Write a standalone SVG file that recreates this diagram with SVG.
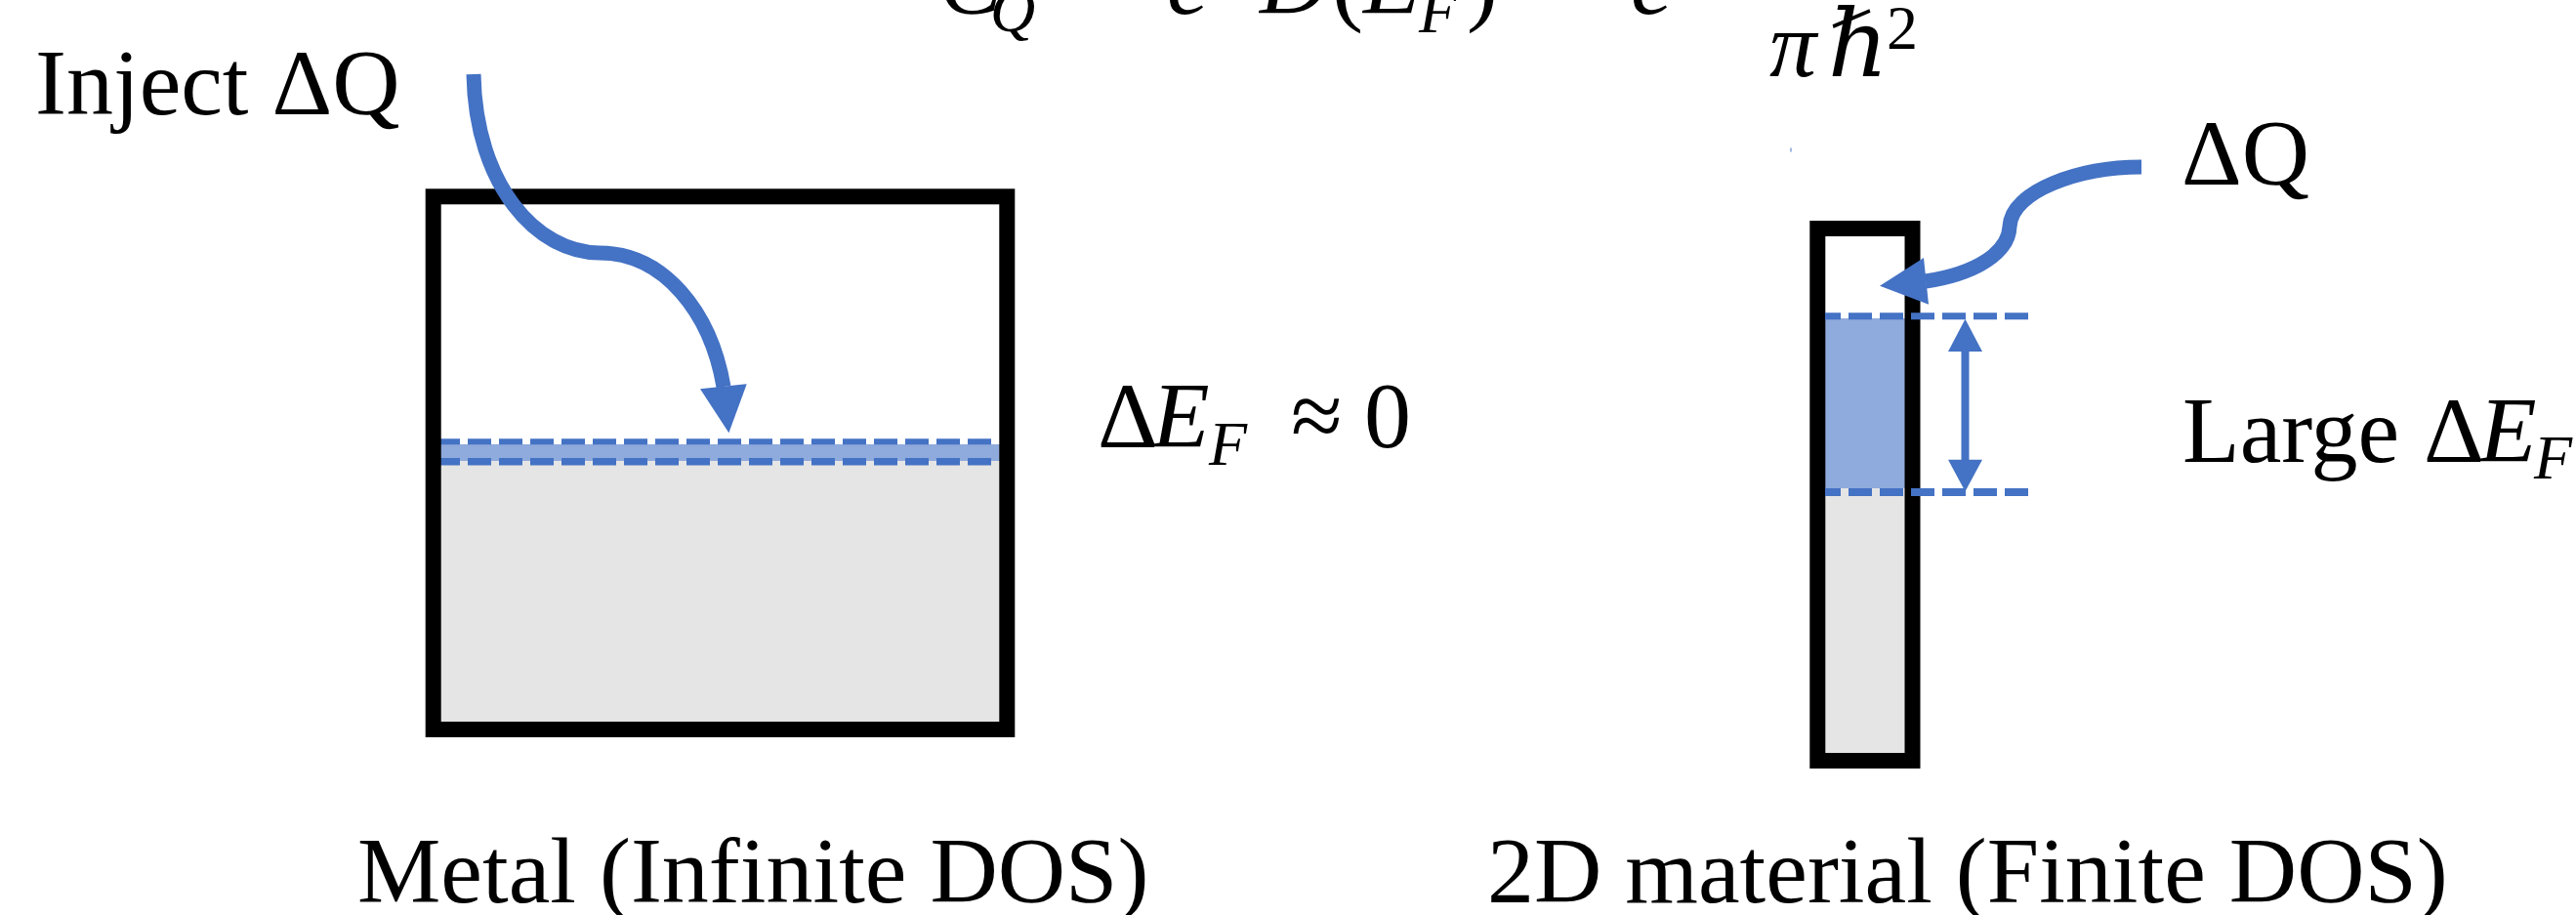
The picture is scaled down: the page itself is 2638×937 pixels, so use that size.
<svg xmlns="http://www.w3.org/2000/svg" width="2638" height="937" viewBox="0 0 2638 937">
<style>
.box{fill:none;stroke:#000;stroke-width:16}
.gray{fill:#E5E5E5}
.band{fill:#8FAADC}
.dash{fill:none;stroke:#4472C4;stroke-dasharray:24 8}
.curve{fill:none;stroke:#4472C4;stroke-width:15}
.head{fill:#4472C4}
.t{font-family:"Liberation Serif","Times New Roman","DejaVu Serif",serif;font-size:96px;fill:#000}
.i{font-style:italic}
.sub{font-size:64px}
</style>
<rect width="2638" height="937" fill="#fff"/>
<g id="equation" class="t">
<text x="962" y="14" class="i">C</text>
<text x="1014" y="32" class="i sub">Q</text>
<text x="1092" y="14">=</text>
<text x="1195" y="14" class="i">e</text>
<text x="1290" y="14" class="i">D</text>
<text x="1364" y="14">(</text>
<text x="1396" y="14" class="i">E</text>
<text x="1453" y="33" class="i sub">F</text>
<text x="1502" y="14">)</text>
<text x="1590" y="14">=</text>
<text x="1670" y="14" class="i">e</text>
<text y="78" class="i"><tspan x="1812">π</tspan><tspan x="1872">ℏ</tspan></text>
<text x="1932" y="50" class="sub">2</text>
</g>
<g id="metal">
<rect class="gray" x="451" y="472" width="573" height="268"/>
<rect class="band" x="451" y="455" width="573" height="17"/>
<path class="dash" d="M451,452.3H1016" stroke-width="6" stroke-dashoffset="4"/>
<path class="dash" d="M451,472.8H1016" stroke-width="7.5" stroke-dashoffset="4"/>
<rect class="box" x="443.7" y="201.3" width="587.6" height="545.7"/>
</g>
<g id="material2d">
<rect class="gray" x="1869" y="500" width="82" height="271"/>
<rect class="band" x="1869" y="326" width="82" height="174"/>
<rect class="box" x="1861.3" y="234" width="97.2" height="545"/>
<path class="dash" d="M1869,323.7H2077" stroke-width="7" stroke-dashoffset="8"/>
<path class="dash" d="M1869,504H2077" stroke-width="8" stroke-dashoffset="8"/>
</g>
<g id="connectors">
<path class="curve" d="M485,76C487,190 550,259 614,259C680,259 728,320 741,396"/>
<polygon class="head" points="717,398.3 764.7,393.3 746.4,443.3"/>
<path class="curve" d="M2193,171C2130,171 2060,195 2058,232C2057,258 2025,280 1972,288"/>
<polygon class="head" points="1970,264 1975,311.7 1925,292.7"/>
<line x1="2012.5" y1="358" x2="2012.5" y2="473" stroke="#4472C4" stroke-width="8"/>
<polygon class="head" points="2012.5,326.7 1995,360 2030,360"/>
<polygon class="head" points="2012.5,503.3 1995,470.7 2030,470.7"/>
<rect x="1833.5" y="151.5" width="1" height="4" fill="#4472C4"/>
</g>
<g id="labels" class="t">
<text id="inject" x="36" y="117">Inject ΔQ</text>
<text id="dq" x="2234" y="189">ΔQ</text>
<text id="def0" y="458"><tspan x="1124">Δ</tspan><tspan x="1180" class="i">E</tspan><tspan x="1238" y="476" class="i sub">F</tspan><tspan x="1322" y="458">≈</tspan><tspan x="1397">0</tspan></text>
<text id="large" y="473"><tspan x="2235">Large </tspan><tspan x="2482">Δ</tspan><tspan x="2539" class="i">E</tspan><tspan x="2595" y="490" class="i sub">F</tspan></text>
<text id="metal-label" x="366" y="924">Metal (Infinite DOS)</text>
<text id="material-label" x="1523" y="924">2D material (Finite DOS)</text>
</g>
</svg>
